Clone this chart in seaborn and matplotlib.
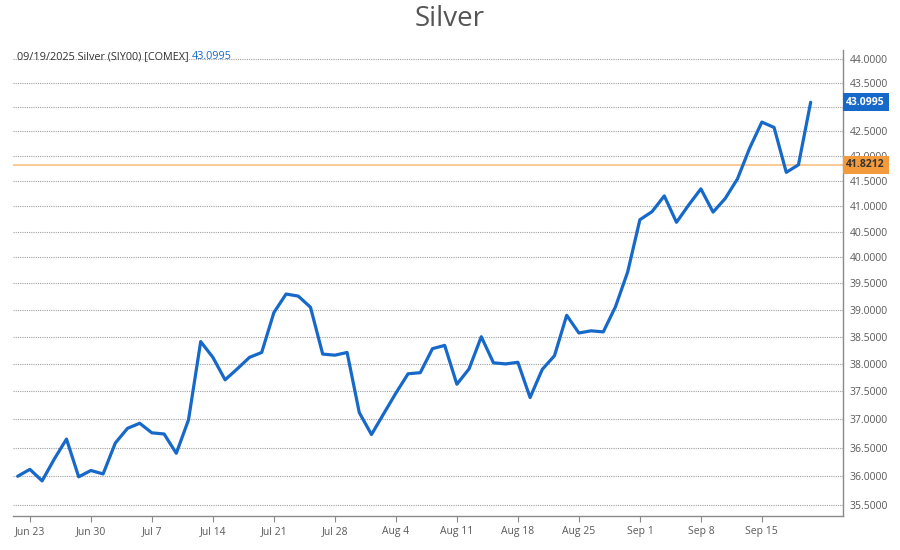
import pandas as pd
import matplotlib
matplotlib.use("Agg")
import matplotlib.pyplot as plt
import matplotlib.ticker as mticker
import matplotlib.transforms as mtransforms
import seaborn as sns

# daily settlement prices, COMEX silver, 06/20/2025 - 09/19/2025
dates = pd.bdate_range("2025-06-20", "2025-09-19")
prices = [
    36.00, 36.12, 35.92, 36.30, 36.65, 35.99, 36.10, 36.04, 36.58, 36.84,
    36.93, 36.76, 36.74, 36.40, 36.99, 38.41, 38.12, 37.71, 37.91, 38.12,
    38.21, 38.95, 39.30, 39.26, 39.05, 38.18, 38.16, 38.21, 37.12, 36.73,
    37.10, 37.47, 37.82, 37.84, 38.28, 38.34, 37.63, 37.91, 38.50, 38.02,
    38.00, 38.03, 37.39, 37.90, 38.15, 38.90, 38.57, 38.61, 38.59, 39.06,
    39.72, 40.73, 40.89, 41.20, 40.68, 41.02, 41.34, 40.88, 41.15, 41.54,
    42.16, 42.69, 42.58, 41.67, 41.8212, 43.0995,
]
last_price = 43.0995
prev_close = 41.8212

y_ticks = [35.5, 36.0, 36.5, 37.0, 37.5, 38.0, 38.5, 39.0, 39.5,
           40.0, 40.5, 41.0, 41.5, 42.0, 42.5, 43.0, 43.5, 44.0]
tick_dates = ["2025-06-23", "2025-06-30", "2025-07-07", "2025-07-14",
              "2025-07-21", "2025-07-28", "2025-08-04", "2025-08-11",
              "2025-08-18", "2025-08-25", "2025-09-01", "2025-09-08",
              "2025-09-15"]
tick_labels = ["Jun 23", "Jun 30", "Jul 7", "Jul 14", "Jul 21", "Jul 28",
               "Aug 4", "Aug 11", "Aug 18", "Aug 25", "Sep 1", "Sep 8",
               "Sep 15"]

sns.set_theme(style="white")
plt.rcParams['font.family'] = ['Open Sans', 'DejaVu Sans']

BLUE = "#1769c9"
ORANGE = "#f39a3c"

df = pd.DataFrame({"pos": range(len(dates)), "price": prices})

fig = plt.figure(figsize=(9, 5.5), dpi=100)
ax = fig.add_axes([13 / 900, 1 - 516 / 550, 830 / 900, 466 / 550])

ax.axhline(prev_close, color="#f9bc7a", lw=1.1, zorder=1)
sns.lineplot(data=df, x="pos", y="price", ax=ax, color=BLUE, lw=2.3, zorder=3)

ax.set_yscale("log")
ax.set_ylim(35.318, 44.197)
ax.set_xlim(-0.385, 67.65)
ax.yaxis.set_major_locator(mticker.FixedLocator(y_ticks))
ax.yaxis.set_minor_locator(mticker.NullLocator())
# the 43.0000 label sits under the last-price badge, so it is left blank
ax.yaxis.set_major_formatter(mticker.FuncFormatter(
    lambda v, _: "" if abs(v - 43.0) < 1e-6 else f"{v:.4f}"))
ax.yaxis.tick_right()

tick_pos = [dates.get_loc(pd.Timestamp(d)) for d in tick_dates]
ax.set_xticks(tick_pos)
ax.set_xticklabels(tick_labels)
ax.set_xlabel("")
ax.set_ylabel("")

ax.grid(axis="y", color="#a0a0a0", ls=(0, (1, 1)), lw=0.8)
ax.grid(axis="x", visible=False)
for side in ["left", "top"]:
    ax.spines[side].set_visible(False)
for side in ["right", "bottom"]:
    ax.spines[side].set_color("#8a8a8a")
    ax.spines[side].set_linewidth(1)

ax.tick_params(axis="x", bottom=True, length=4, width=0.8, color="#8a8a8a",
               labelsize=7.5, labelcolor="#5a5a5a", pad=3)
ax.tick_params(axis="y", right=True, length=0, labelsize=7.5,
               labelcolor="#5a5a5a", pad=5)

# price badges on the right axis
trans = mtransforms.blended_transform_factory(ax.transAxes, ax.transData)
ax.text(1.004, last_price, f"{last_price:.4f}", transform=trans, ha="left",
        va="center", fontsize=7.5, color="white", weight="bold", clip_on=False,
        bbox=dict(boxstyle="square,pad=0.35", fc=BLUE, ec="none"), zorder=5)
ax.text(1.004, prev_close, f"{prev_close:.4f}", transform=trans, ha="left",
        va="center", fontsize=7.5, color="#333333", weight="bold", clip_on=False,
        bbox=dict(boxstyle="square,pad=0.35", fc=ORANGE, ec="none"), zorder=5)

# header text inside the plot
hdr = ax.text(0.005, 0.985, "09/19/2025 Silver (SIY00) [COMEX] ", transform=ax.transAxes,
              ha="left", va="center", fontsize=7.8, color="#333333")
ax.annotate(f"{last_price:.4f}", xy=(1, 0.5), xycoords=hdr, ha="left", va="center",
            fontsize=7.8, color=BLUE)

fig.suptitle("Silver", x=0.5, y=0.99, fontsize=20, color="#555555")

plt.savefig("out.png", dpi=100)
